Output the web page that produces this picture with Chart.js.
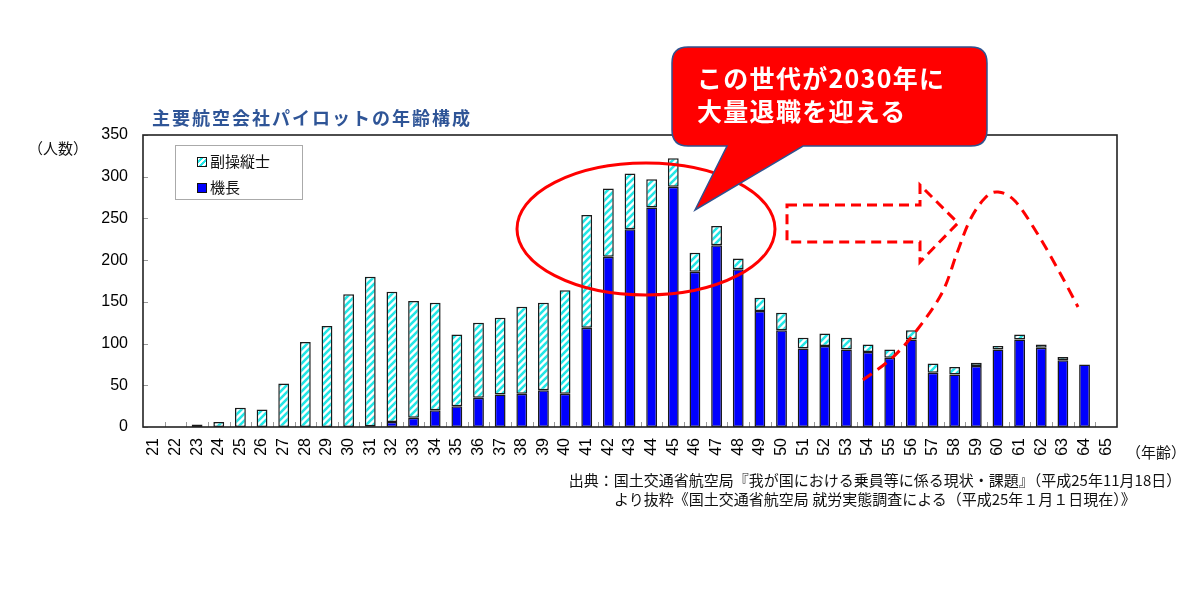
<!DOCTYPE html>
<html>
<head>
<meta charset="utf-8">
<script src="https://cdn.jsdelivr.net/npm/chart.js@4.4.1/dist/chart.umd.min.js"></script>
<style>
  html, body { margin: 0; padding: 0; background: #ffffff; }
  #wrap { position: relative; width: 1198px; height: 604px; overflow: hidden; font-family: "Noto Sans CJK JP", "Liberation Sans", sans-serif; }
  #chartBox { position: absolute; left: 0; top: 0; width: 1198px; height: 604px; }
  .txt { position: absolute; white-space: nowrap; }
  #title { left: 152px; top: 104px; font-size: 18px; font-weight: bold; color: #2f5597; letter-spacing: 2px; line-height: 26px; }
  #yunit { left: 28px; top: 138px; font-size: 15px; color: #111; line-height: 20px; }
  #xunit { left: 1126px; top: 442px; font-size: 15px; color: #111; line-height: 20px; }
  #legend { position: absolute; left: 175px; top: 145px; width: 128px; height: 55px; border: 1px solid #aaaaaa; background: #fff; box-sizing: border-box; }
  .litem { position: absolute; left: 21px; font-size: 15px; color: #111; line-height: 20px; }
  .sw { display: inline-block; width: 8px; height: 8px; border: 1px solid #111; vertical-align: middle; margin-right: 3px; position: relative; top: -1px; }
  #sw1 { background: repeating-linear-gradient(135deg, #ffffff 0 2px, #22e6e6 2px 4px); }
  #sw2 { background: #0000ff; }
  #source { left: 560px; top: 470px; width: 630px; text-align: center; font-size: 15px; color: #111; line-height: 19px; }
  #callText { left: 697px; top: 61px; font-size: 25px; font-weight: bold; color: #ffffff; line-height: 33px; letter-spacing: 1.3px; }
  svg { position: absolute; left: 0; top: 0; }
</style>
</head>
<body>
<div id="wrap">
  <div id="chartBox"><canvas id="c"></canvas></div>
  <div class="txt" id="title">主要航空会社パイロットの年齢構成</div>
  <div class="txt" id="yunit">（人数）</div>
  <div class="txt" id="xunit">（年齢）</div>
  <div id="legend">
    <div class="litem" style="top:5px;"><span class="sw" id="sw1"></span>副操縦士</div>
    <div class="litem" style="top:31px;"><span class="sw" id="sw2"></span>機長</div>
  </div>
  <div class="txt" id="source">出典：国土交通省航空局『我が国における乗員等に係る現状・課題』（平成25年11月18日）<br>より抜粋《国土交通省航空局 就労実態調査による（平成25年１月１日現在）》</div>
  <svg id="ov" width="1198" height="604" viewBox="0 0 1198 604">
    <ellipse cx="646" cy="229" rx="129" ry="66" fill="none" stroke="#ff0000" stroke-width="3"/>
    <path d="M787 205 H920 V185 L958 223 L920 262 V242 H787 Z" fill="none" stroke="#ff0000" stroke-width="3" stroke-dasharray="10,6"/>
    <path id="curve" d="" fill="none" stroke="#ff0000" stroke-width="3" stroke-dasharray="11,7"/>
    <path d="M688 47 H971 Q987 47 987 63 V130 Q987 146 971 146 H803 L695 210 L727 146 H688 Q672 146 672 130 V63 Q672 47 688 47 Z" fill="#ff0000" stroke="#2f528f" stroke-width="1.5"/>
  </svg>
  <div class="txt" id="callText">この世代が2030年に<br>大量退職を迎える</div>
</div>
<script>
// ---- data ----
const ageLabels = ['21','22','23','24','25','26','27','28','29','30','31','32','33','34','35','36','37','38','39','40','41','42','43','44','45','46','47','48','49','50','51','52','53','54','55','56','57','58','59','60','61','62','63','64','65'];
const captainValues = [null,null,null,null,null,null,null,null,null,null,1,6,11,20,25,35,39,40,44,40,119,204,237,263,288,186,218,189,139,116,94,97,93,90,83,105,65,63,73,93,105,95,80,75,null];
const copilotValues = [null,null,3,6,23,21,52,102,121,159,179,156,140,129,86,90,92,104,105,124,135,82,67,34,34,23,23,13,16,21,13,15,14,9,10,11,11,9,4,4,6,4,4,null,null];
const yTickValues = [0,50,100,150,200,250,300,350];
const seriesNames = ['機長','副操縦士'];

// ---- stripe pattern for co-pilots ----
function makeStripe() {
  const s = 7;
  const cv = document.createElement('canvas');
  cv.width = s; cv.height = s;
  const g = cv.getContext('2d');
  g.fillStyle = '#ffffff'; g.fillRect(0, 0, s, s);
  g.strokeStyle = '#22e6e6'; g.lineWidth = 2.6;
  g.beginPath();
  g.moveTo(-1, s + 1); g.lineTo(s + 1, -1);
  g.moveTo(-s / 2 - 1, s / 2 + 1); g.lineTo(s / 2 + 1, -s / 2 - 1);
  g.moveTo(s / 2 - 1, s * 1.5 + 1); g.lineTo(s * 1.5 + 1, s / 2 - 1);
  g.stroke();
  return g.createPattern(cv, 'repeat');
}

// ---- dashed trend curve (annotation) ----
(function () {
  const p = [[863,380],[892,358],[917,330],[942,293],[957,253],[970,220],[985,198],[998,192],[1015,201],[1037,233],[1060,273],[1078,307]];
  let d = 'M' + p[0][0] + ' ' + p[0][1];
  for (let i = 0; i < p.length - 1; i++) {
    const p0 = p[Math.max(0, i - 1)], p1 = p[i], p2 = p[i + 1], p3 = p[Math.min(p.length - 1, i + 2)];
    const c1x = p1[0] + (p2[0] - p0[0]) / 6, c1y = p1[1] + (p2[1] - p0[1]) / 6;
    const c2x = p2[0] - (p3[0] - p1[0]) / 6, c2y = p2[1] - (p3[1] - p1[1]) / 6;
    d += ' C' + c1x.toFixed(1) + ' ' + c1y.toFixed(1) + ' ' + c2x.toFixed(1) + ' ' + c2y.toFixed(1) + ' ' + p2[0] + ' ' + p2[1];
  }
  document.getElementById('curve').setAttribute('d', d);
})();

// ---- frame + inward ticks ----
const framePlugin = {
  id: 'frame',
  afterDatasetsDraw(chart) {
    const { ctx, chartArea: a, scales } = chart;
    ctx.save();
    ctx.strokeStyle = '#999999';
    ctx.lineWidth = 1;
    ctx.beginPath();
    yTickValues.forEach(v => {
      const y = Math.round(scales.y.getPixelForValue(v)) + 0.5;
      ctx.moveTo(a.left, y); ctx.lineTo(a.left + 5, y);
    });
    const n = ageLabels.length;
    const w = (a.right - a.left) / n;
    for (let i = 1; i < n; i++) {
      const x = Math.round(a.left + i * w) + 0.5;
      ctx.moveTo(x, a.bottom); ctx.lineTo(x, a.bottom - 5);
    }
    ctx.stroke();
    ctx.strokeStyle = '#222222';
    ctx.lineWidth = 1.6;
    ctx.strokeRect(a.left, a.top, a.right - a.left, a.bottom - a.top);
    ctx.restore();
  }
};

const ctx = document.getElementById('c').getContext('2d');
new Chart(ctx, {
  type: 'bar',
  data: {
    labels: ageLabels,
    datasets: [
      { label: seriesNames[0], data: captainValues, backgroundColor: '#0000ff', borderColor: '#1a1a1a', borderWidth: 1.5, borderSkipped: false, barPercentage: 0.5, categoryPercentage: 1.0 },
      { label: seriesNames[1], data: copilotValues, backgroundColor: makeStripe(), borderColor: '#1a1a1a', borderWidth: 1.5, borderSkipped: false, barPercentage: 0.5, categoryPercentage: 1.0 }
    ]
  },
  options: {
    responsive: true,
    maintainAspectRatio: false,
    animation: false,
    layout: { padding: { left: 0, top: 135, right: 81, bottom: 0 } },
    plugins: { legend: { display: false }, tooltip: { enabled: false } },
    scales: {
      x: {
        stacked: true,
        grid: { display: false, drawTicks: false },
        border: { display: false },
        ticks: { autoSkip: false, minRotation: 90, maxRotation: 90, padding: 11, color: '#000', font: { family: 'Liberation Sans', size: 16 } },
        afterFit(s) { s.height = 177; }
      },
      y: {
        stacked: true,
        min: 0, max: 350,
        grid: { display: false, drawTicks: false },
        border: { display: false },
        ticks: { stepSize: 50, padding: 15, color: '#000', font: { family: 'Liberation Sans', size: 16 } },
        afterFit(s) { s.width = 143; }
      }
    }
  },
  plugins: [framePlugin]
});
</script>
</body>
</html>
